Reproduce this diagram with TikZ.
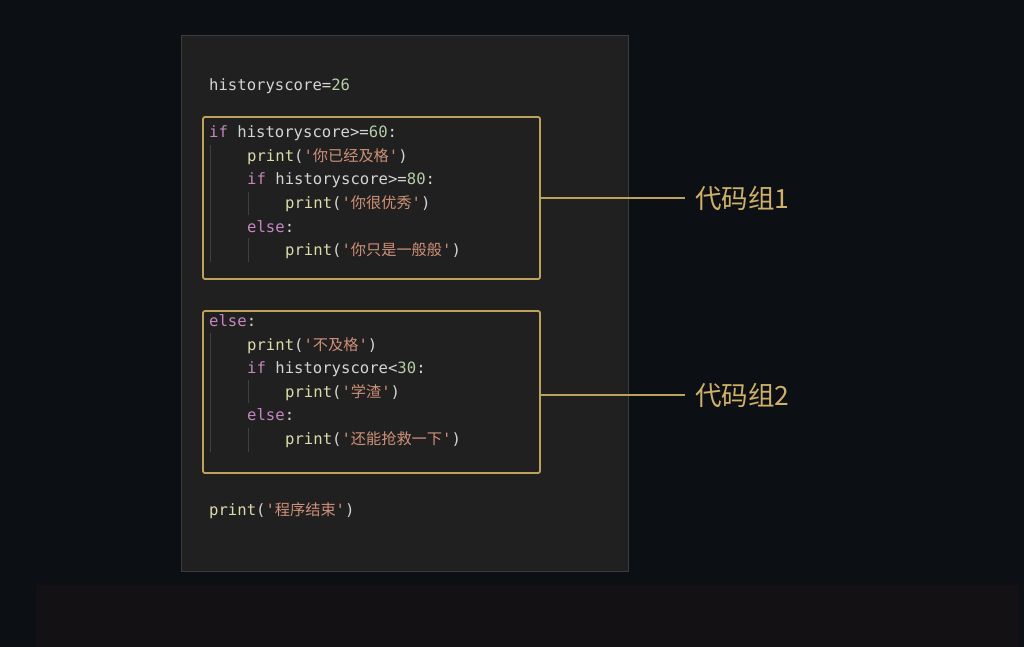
\documentclass[tikz,border=0pt]{standalone}
\usepackage{fontspec}
\newfontfamily\codefont{DejaVu Sans Mono}
\newfontfamily\zhfont{Noto Sans CJK SC}
\definecolor{bgc}{RGB}{12,15,20}
\definecolor{stripc}{RGB}{19,17,20}
\definecolor{panelc}{RGB}{32,32,32}
\definecolor{panelb}{RGB}{60,60,60}
\definecolor{plainc}{RGB}{212,212,212}
\definecolor{kwc}{RGB}{197,134,192}
\definecolor{numc}{RGB}{181,206,168}
\definecolor{fnc}{RGB}{220,220,170}
\definecolor{strc}{RGB}{206,145,120}
\definecolor{goldc}{RGB}{190,162,92}
\definecolor{labc}{RGB}{206,176,104}
\definecolor{guidec}{RGB}{64,64,64}
\newcommand\ckw[1]{\textcolor{kwc}{#1}}
\newcommand\cnum[1]{\textcolor{numc}{#1}}
\newcommand\cfn[1]{\textcolor{fnc}{#1}}
\newcommand\cstr[1]{\textcolor{strc}{'{\zhfont\fontsize{15.2}{18}\selectfont #1}'}}
\tikzset{
  codeline/.style={anchor=base west, inner sep=0pt, text=plainc, font=\codefont\fontsize{15.6}{18}\selectfont},
  groupbox/.style={draw=goldc, line width=1.8pt, rounded corners=2pt},
  guide/.style={draw=guidec, line width=0.8pt},
  link/.style={draw=goldc, line width=1.6pt},
  grouplabel/.style={anchor=west, inner sep=0pt, text=labc, font=\zhfont\fontsize{26.5}{30}\selectfont}
}
\begin{document}
\begin{tikzpicture}[x=1pt,y=-1pt]
\useasboundingbox (0,0) rectangle (1024,647);
\fill[bgc] (0,0) rectangle (1024,647);
\fill[stripc] (36,585) rectangle (1019,647);
\filldraw[fill=panelc, draw=panelb, line width=1pt] (181,36) rectangle (628,571);

% indent guides
\draw[guide] (210,145) -- (210,262);
\draw[guide] (248,192) -- (248,215);
\draw[guide] (248,238) -- (248,262);
\draw[guide] (210,333) -- (210,452);
\draw[guide] (248,380) -- (248,403);
\draw[guide] (248,428) -- (248,452);

% code lines
\node[codeline] (l0) at (209,90.5) {historyscore=\cnum{26}};
\node[codeline] (l2) at (209,137.7) {\ckw{if} historyscore>=\cnum{60}:};
\node[codeline] (l3) at (247,161.3) {\cfn{print}(\cstr{你已经及格})};
\node[codeline] (l4) at (247,184.9) {\ckw{if} historyscore>=\cnum{80}:};
\node[codeline] (l5) at (285,208.5) {\cfn{print}(\cstr{你很优秀})};
\node[codeline] (l6) at (247,232.1) {\ckw{else}:};
\node[codeline] (l7) at (285,255.7) {\cfn{print}(\cstr{你只是一般般})};

\node[codeline] (l10) at (209,326.5) {\ckw{else}:};
\node[codeline] (l11) at (247,350.1) {\cfn{print}(\cstr{不及格})};
\node[codeline] (l12) at (247,373.7) {\ckw{if} historyscore<\cnum{30}:};
\node[codeline] (l13) at (285,397.3) {\cfn{print}(\cstr{学渣})};
\node[codeline] (l14) at (247,420.9) {\ckw{else}:};
\node[codeline] (l15) at (285,444.5) {\cfn{print}(\cstr{还能抢救一下})};

\node[codeline] (l18) at (209,515.5) {\cfn{print}(\cstr{程序结束})};

% group boxes
\draw[groupbox] (203,117) rectangle (540,279);
\draw[groupbox] (203,311) rectangle (540,473);
\coordinate (b1) at (540,198);
\coordinate (b2) at (540,395);
\coordinate (e1) at (685,198);
\coordinate (e2) at (685,395);

% labels and links
\node[grouplabel] (g1) at (695,198.5) {代码组1};
\node[grouplabel] (g2) at (695,395.5) {代码组2};
\draw[link] (b1) -- (e1);
\draw[link] (b2) -- (e2);
\end{tikzpicture}
\end{document}
